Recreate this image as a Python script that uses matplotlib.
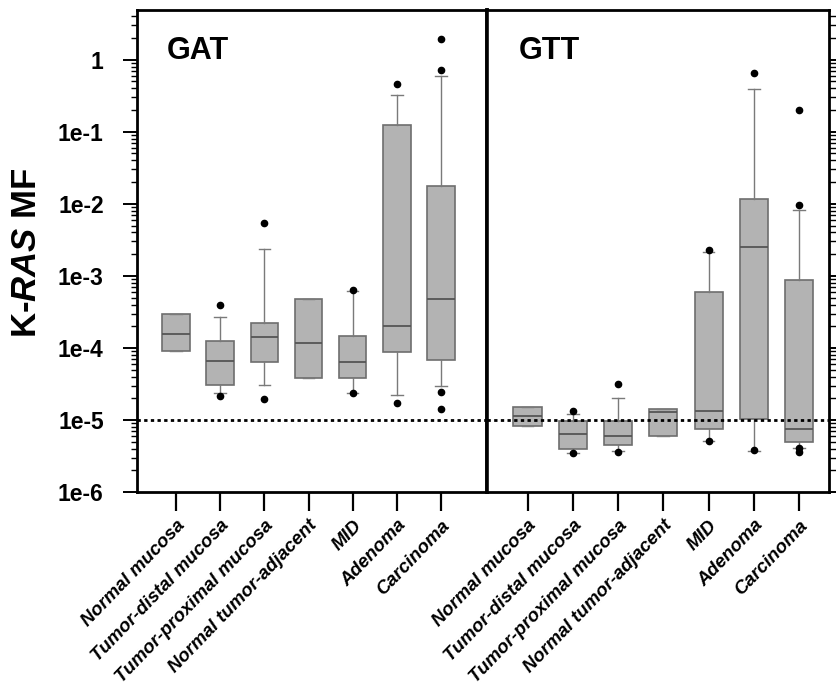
import matplotlib
matplotlib.use("Agg")
import matplotlib.pyplot as plt
import numpy as np
from matplotlib.ticker import LogLocator, NullFormatter

plt.rcParams['font.family'] = ['Liberation Sans', 'DejaVu Sans']
plt.rcParams['mathtext.fontset'] = 'custom'
plt.rcParams['mathtext.rm'] = 'Liberation Sans:bold'
plt.rcParams['mathtext.it'] = 'Liberation Sans:bold:italic'
plt.rcParams['mathtext.bf'] = 'Liberation Sans:bold'
try:
    plt.rcParams['mathtext.bfit'] = 'Liberation Sans:bold:italic'
except KeyError:
    pass

categories = ["Normal mucosa", "Tumor-distal mucosa", "Tumor-proximal mucosa",
              "Normal tumor-adjacent", "MID", "Adenoma", "Carcinoma"]

# GAT panel
gat_q1 = [9.2e-5, 3.1e-5, 6.3e-5, 3.8e-5, 3.8e-5, 8.7e-5, 6.7e-5]
gat_med = [1.55e-4, 6.6e-5, 1.42e-4, 1.17e-4, 6.3e-5, 2.04e-4, 4.8e-4]
gat_q3 = [3.0e-4, 1.26e-4, 2.2e-4, 4.8e-4, 1.47e-4, 0.124, 0.0174]
gat_wlo = [9.2e-5, 2.33e-5, 3.1e-5, 3.8e-5, 2.35e-5, 2.2e-5, 2.97e-5]
gat_whi = [3.0e-4, 2.7e-4, 2.37e-3, 4.8e-4, 6.2e-4, 0.32, 0.59]
gat_fliers = [[], [3.9e-4, 2.15e-5], [5.5e-3, 1.96e-5], [], [6.3e-4, 2.4e-5],
              [0.46, 1.7e-5], [1.94, 0.73, 2.47e-5, 1.4e-5]]

# GTT panel
gtt_q1 = [8.3e-6, 4.0e-6, 4.45e-6, 6.0e-6, 7.4e-6, 1.03e-5, 5.0e-6]
gtt_med = [1.12e-5, 6.3e-6, 6.0e-6, 1.28e-5, 1.35e-5, 2.5e-3, 7.4e-6]
gtt_q3 = [1.5e-5, 9.8e-6, 9.8e-6, 1.42e-5, 5.9e-4, 0.0116, 8.9e-4]
gtt_wlo = [8.3e-6, 3.5e-6, 3.7e-6, 6.0e-6, 5.1e-6, 3.7e-6, 4.1e-6]
gtt_whi = [1.5e-5, 1.2e-5, 2.0e-5, 1.42e-5, 2.14e-3, 0.395, 8.1e-3]
gtt_fliers = [[], [1.35e-5, 3.5e-6], [3.15e-5, 3.6e-6], [], [2.3e-3, 5.1e-6],
              [0.66, 3.8e-6], [0.2, 9.5e-3, 4.1e-6, 3.6e-6]]

panel_names = ["GAT", "GTT"]
ytick_vals = [1e-6, 1e-5, 1e-4, 1e-3, 1e-2, 1e-1, 1]
ytick_labels = ["1e-6", "1e-5", "1e-4", "1e-3", "1e-2", "1e-1", "1"]
threshold = 1e-5

W, H = 837, 686
fig = plt.figure(figsize=(W / 100, H / 100), dpi=100)
bottom_px, top_px = 492, 10
axL = fig.add_axes([137 / W, (H - bottom_px) / H, 350 / W, (bottom_px - top_px) / H])
axR = fig.add_axes([487 / W, (H - bottom_px) / H, 342 / W, (bottom_px - top_px) / H])


def stats(q1, med, q3, wlo, whi, fl):
    out = []
    for i in range(len(q1)):
        out.append(dict(q1=q1[i], med=med[i], q3=q3[i], whislo=wlo[i],
                        whishi=whi[i], fliers=fl[i]))
    return out


box_face = '#b3b3b3'
box_edge = '#6e6e6e'
for ax, st, name, xl, lx in [
        (axL, stats(gat_q1, gat_med, gat_q3, gat_wlo, gat_whi, gat_fliers), panel_names[0], (0.117, 8.04), 0.086),
        (axR, stats(gtt_q1, gtt_med, gtt_q3, gtt_wlo, gtt_whi, gtt_fliers), panel_names[1], (0.105, 7.66), 0.094)]:
    pos = np.arange(1, len(categories) + 1)
    ax.set_yscale('log')
    ax.bxp(st, positions=pos, widths=0.62, patch_artist=True, showfliers=True,
           boxprops=dict(facecolor=box_face, edgecolor=box_edge, linewidth=1.2),
           medianprops=dict(color='#555555', linewidth=1.3),
           whiskerprops=dict(color='#7a7a7a', linewidth=1.0),
           capprops=dict(color='#7a7a7a', linewidth=1.0),
           flierprops=dict(marker='o', markerfacecolor='black', markeredgecolor='black', markersize=4.5),
           capwidths=0.26)
    ax.set_xlim(*xl)
    ax.set_ylim(1e-6, 4.9)
    ax.axhline(threshold, color='black', linestyle=(0, (1.2, 1.2)), linewidth=2.0, zorder=5)
    ax.set_xticks(pos)
    ax.set_xticklabels(categories, rotation=46, ha='right', va='top', rotation_mode='anchor',
                       fontsize=13.5, fontweight='bold', fontstyle='italic')
    ax.tick_params(axis='x', direction='out', length=14, width=1.6, pad=4)
    ax.text(lx, 0.898, name, transform=ax.transAxes, fontsize=22, fontweight='bold',
            ha='left', va='baseline')
    for s in ax.spines.values():
        s.set_linewidth(2.0)

# left panel y-axis
axL.set_yticks(ytick_vals)
axL.set_yticklabels(ytick_labels, fontsize=16.5, fontweight='bold')
axL.yaxis.set_minor_locator(LogLocator(base=10, subs=np.arange(2, 10), numticks=20))
axL.yaxis.set_minor_formatter(NullFormatter())
axL.tick_params(axis='y', which='major', direction='out', length=10, width=1.4, pad=14)
axL.tick_params(axis='y', which='minor', direction='out', length=4, width=1.0)
axL.spines['right'].set_linewidth(2.6)

# right panel: ticks on right spine, no labels; thick divider on its left
axR.spines['left'].set_linewidth(2.6)
axR.set_yticks(ytick_vals)
axR.yaxis.set_minor_locator(LogLocator(base=10, subs=np.arange(2, 10), numticks=20))
axR.yaxis.set_minor_formatter(NullFormatter())
axR.tick_params(axis='y', which='both', left=False, right=True, labelleft=False,
                labelright=False, direction='out')
axR.tick_params(axis='y', which='major', length=6, width=1.4)
axR.tick_params(axis='y', which='minor', length=5, width=1.0)

fig.text(27 / W, 1 - 253 / H, r'K-$\mathbfit{RAS}$ MF', rotation=90, ha='center', va='center',
         fontsize=25, fontweight='bold')

fig.savefig('out.png', dpi=100)
